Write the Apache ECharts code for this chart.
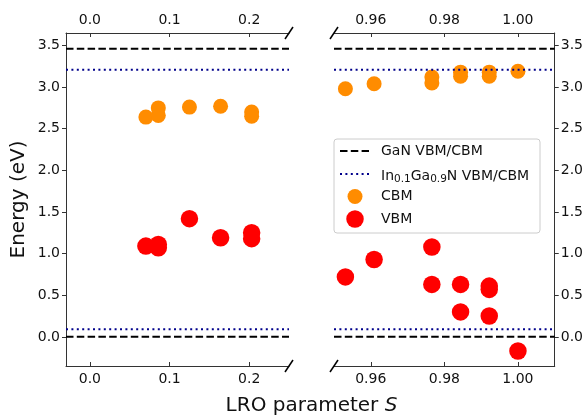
<!DOCTYPE html>
<html><head><meta charset="utf-8">
<script src="https://cdn.jsdelivr.net/npm/echarts@6/dist/echarts.min.js"></script>
<style>html,body{margin:0;padding:0;background:#fff}#c{width:586px;height:420px}</style>
</head><body><div id="c"></div>
<script>
// ---- data ----
const cbmLeftS  = [0.0703, 0.0859, 0.0859, 0.125, 0.1641, 0.2031, 0.2031];
const cbmLeftE  = [2.64, 2.75, 2.66, 2.76, 2.77, 2.70, 2.65];
const vbmLeftS  = [0.0703, 0.0859, 0.0859, 0.125, 0.1641, 0.2031, 0.2031];
const vbmLeftE  = [1.09, 1.11, 1.07, 1.42, 1.19, 1.25, 1.18];
const cbmRightS = [0.9531, 0.9609, 0.9766, 0.9766, 0.9844, 0.9844, 0.9922, 0.9922, 1.0];
const cbmRightE = [2.98, 3.04, 3.12, 3.05, 3.18, 3.13, 3.18, 3.13, 3.19];
const vbmRightS = [0.9531, 0.9609, 0.9766, 0.9766, 0.9844, 0.9844, 0.9922, 0.9922, 0.9922, 1.0];
const vbmRightE = [0.72, 0.93, 1.08, 0.63, 0.63, 0.30, 0.61, 0.57, 0.25, -0.17];
const ganLevels = [0.0, 3.46];
const ingaLevels = [0.09, 3.21];
const leftRange = [-0.03, 0.25];
const rightRange = [0.95, 1.01];
const yRange = [-0.35, 3.65];
const leftTicks = [0.0, 0.1, 0.2];
const rightTicks = [0.96, 0.98, 1.00];
const yTicks = [0.0, 0.5, 1.0, 1.5, 2.0, 2.5, 3.0, 3.5];

const FONT = 'DejaVu Sans';
const G = [{left: 66, top: 33, width: 223, height: 333}, {left: 334, top: 33, width: 223, height: 333}];
const zip = (a, b) => a.map((v, i) => [v, b[i]]);
const lineStyleAx = {show: true, onZero: false, lineStyle: {color: '#333', width: 1}};

function xAx(gi, pos, range, ticks, dec) {
  return {
    type: 'value', gridIndex: gi, position: pos, min: range[0], max: range[1],
    axisLine: lineStyleAx, splitLine: {show: false},
    axisTick: {show: true, inside: true, length: 4, customValues: ticks, lineStyle: {color: '#333'}},
    axisLabel: {show: true, customValues: ticks, margin: 6, fontFamily: FONT, fontSize: 14, color: '#111',
      formatter: v => v.toFixed(dec)}
  };
}
function yAx(gi, pos) {
  return {
    type: 'value', gridIndex: gi, position: pos, min: yRange[0], max: yRange[1],
    axisLine: lineStyleAx, splitLine: {show: false},
    axisTick: {show: true, inside: false, length: 4, customValues: yTicks, lineStyle: {color: '#333'}},
    axisLabel: {show: true, customValues: yTicks, margin: 6, fontFamily: FONT, fontSize: 14, color: '#111',
      formatter: v => v.toFixed(1)}
  };
}

const series = [];
[[0, leftRange], [2, rightRange]].forEach(([xi, rg], k) => {
  series.push({type: 'scatter', xAxisIndex: xi, yAxisIndex: k, symbolSize: 15, z: 2,
    itemStyle: {color: '#ff8c00', opacity: 1},
    data: k === 0 ? zip(cbmLeftS, cbmLeftE) : zip(cbmRightS, cbmRightE)});
  series.push({type: 'scatter', xAxisIndex: xi, yAxisIndex: k, symbolSize: 17.5, z: 2,
    itemStyle: {color: '#ff0000', opacity: 1},
    data: k === 0 ? zip(vbmLeftS, vbmLeftE) : zip(vbmRightS, vbmRightE)});
  ganLevels.forEach(v => series.push({type: 'line', xAxisIndex: xi, yAxisIndex: k, z: 4, symbol: 'none',
    silent: true, lineStyle: {color: '#000', width: 2, type: [7.5, 3.3]}, data: [[rg[0], v], [rg[1], v]]}));
  ingaLevels.forEach(v => series.push({type: 'line', xAxisIndex: xi, yAxisIndex: k, z: 4, symbol: 'none',
    silent: true, lineStyle: {color: '#00008b', width: 2, type: [2, 3.4]}, data: [[rg[0], v], [rg[1], v]]}));
});

// decorations: break marks, legend, axis titles
const breaks = [];
[[G[0].left + G[0].width, G[0].top], [G[0].left + G[0].width, G[0].top + G[0].height],
 [G[1].left, G[1].top], [G[1].left, G[1].top + G[1].height]].forEach(([x, y]) => {
  breaks.push({type: 'line', shape: {x1: x - 4, y1: y + 6, x2: x + 4, y2: y - 6},
    style: {stroke: '#000', lineWidth: 1.5}, z: 10});
});

const LX = 334, LY = 139;
const legend = [
  {type: 'rect', shape: {x: LX, y: LY, width: 206, height: 94, r: 3},
    style: {fill: 'rgba(255,255,255,0.85)', stroke: '#cccccc', lineWidth: 1}, z: 20},
  {type: 'line', shape: {x1: LX + 6, y1: LY + 12, x2: LX + 35, y2: LY + 12},
    style: {stroke: '#000', lineWidth: 2, lineDash: [7.5, 3.3]}, z: 21},
  {type: 'line', shape: {x1: LX + 6, y1: LY + 35, x2: LX + 35, y2: LY + 35},
    style: {stroke: '#00008b', lineWidth: 2, lineDash: [2, 3.4]}, z: 21},
  {type: 'circle', shape: {cx: LX + 21, cy: LY + 57.5, r: 7.5}, style: {fill: '#ff8c00'}, z: 21},
  {type: 'circle', shape: {cx: LX + 21, cy: LY + 80, r: 8.75}, style: {fill: '#ff0000'}, z: 21},
  {type: 'text', x: LX + 47, y: LY + 12, z: 21,
    style: {text: 'GaN VBM/CBM', font: '14px "DejaVu Sans"', fill: '#111', verticalAlign: 'middle'}},
  {type: 'text', x: LX + 47, y: LY + 35, z: 21,
    style: {text: '{n|In}{s|0.1}{n|Ga}{s|0.9}{n|N VBM/CBM}', verticalAlign: 'middle', fill: '#111',
      rich: {n: {fontFamily: FONT, fontSize: 14, fill: '#111', verticalAlign: 'bottom', lineHeight: 18},
             s: {fontFamily: FONT, fontSize: 10.5, fill: '#111', verticalAlign: 'bottom', lineHeight: 12, padding: [0, 0, -2, 0]}}}},
  {type: 'text', x: LX + 47, y: LY + 57.5, z: 21,
    style: {text: 'CBM', font: '14px "DejaVu Sans"', fill: '#111', verticalAlign: 'middle'}},
  {type: 'text', x: LX + 47, y: LY + 80, z: 21,
    style: {text: 'VBM', font: '14px "DejaVu Sans"', fill: '#111', verticalAlign: 'middle'}}
];

const titles = [
  {type: 'text', x: 311.5, y: 406, z: 5,
    style: {text: '{n|LRO parameter }{i|S}', align: 'center', verticalAlign: 'middle',
      rich: {n: {fontFamily: FONT, fontSize: 20, fill: '#111'}, i: {fontFamily: FONT, fontSize: 20, fontStyle: 'italic', fill: '#111'}}}},
  {type: 'text', x: 19, y: 199.5, rotation: Math.PI / 2, z: 5,
    style: {text: 'Energy (eV)', font: '20px "DejaVu Sans"', fill: '#111', align: 'center', verticalAlign: 'middle'}}
];

const chart = echarts.init(document.getElementById('c'), null, {renderer: 'canvas'});
chart.setOption({
  animation: false,
  backgroundColor: '#fff',
  grid: G,
  xAxis: [xAx(0, 'bottom', leftRange, leftTicks, 1), xAx(0, 'top', leftRange, leftTicks, 1),
          xAx(1, 'bottom', rightRange, rightTicks, 2), xAx(1, 'top', rightRange, rightTicks, 2)],
  yAxis: [yAx(0, 'left'), yAx(1, 'right')],
  series: series,
  graphic: breaks.concat(legend, titles)
});
</script></body></html>
